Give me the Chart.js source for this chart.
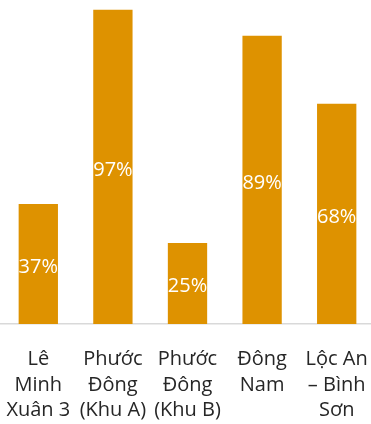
<!DOCTYPE html>
<html>
<head>
<meta charset="utf-8">
<script src="https://cdn.jsdelivr.net/npm/chart.js@4/dist/chart.umd.min.js"></script>
<style>
html,body{margin:0;padding:0;background:#fff;overflow:hidden;}
#wrap{position:relative;width:375px;height:424px;}
</style>
</head>
<body>
<div id="wrap"><canvas id="c"></canvas></div>
<script>
const categories = [
  ["Lê", "Minh", "Xuân 3"],
  ["Phước", "Đông", "(Khu A)"],
  ["Phước", "Đông", "(Khu B)"],
  ["Đông", "Nam"],
  ["Lộc An", "– Bình", "Sơn"]
];
const values = [37, 97, 25, 89, 68];
const valueLabels = ["37%", "97%", "25%", "89%", "68%"];

const barColor = "#DE9200";

const insideLabels = {
  id: "insideLabels",
  afterDatasetsDraw(chart) {
    const ctx = chart.ctx;
    const meta = chart.getDatasetMeta(0);
    ctx.save();
    ctx.font = '20px "Open Sans", sans-serif';
    ctx.fillStyle = "#FFFFFF";
    ctx.textAlign = "center";
    ctx.textBaseline = "middle";
    meta.data.forEach((bar, i) => {
      const p = bar.getProps(["x", "y", "base"], true);
      ctx.fillText(valueLabels[i], p.x, (p.y + p.base) / 2 + 3);
    });
    ctx.restore();
  }
};

new Chart(document.getElementById("c"), {
  type: "bar",
  data: {
    labels: categories,
    datasets: [{
      data: values,
      backgroundColor: barColor,
      borderWidth: 0,
      categoryPercentage: 1,
      barPercentage: 0.527
    }]
  },
  options: {
    responsive: true,
    maintainAspectRatio: false,
    animation: false,
    layout: { padding: { left: 1, right: 1, top: 0, bottom: 0 } },
    plugins: { legend: { display: false }, tooltip: { enabled: false } },
    scales: {
      y: { display: false, min: 0, max: 100 },
      x: {
        grid: { display: false, drawTicks: false },
        border: { display: true, color: "#D9D9D9", width: 1.5 },
        afterFit(scale) {
          scale.height = 100;
          scale.paddingLeft = 0;
          scale.paddingRight = 0;
        },
        ticks: {
          maxRotation: 0,
          autoSkip: false,
          padding: 23,
          color: "#262626",
          font: { family: '"Open Sans", sans-serif', size: 20, lineHeight: 1.275 }
        }
      }
    }
  },
  plugins: [insideLabels]
});
</script>
</body>
</html>
